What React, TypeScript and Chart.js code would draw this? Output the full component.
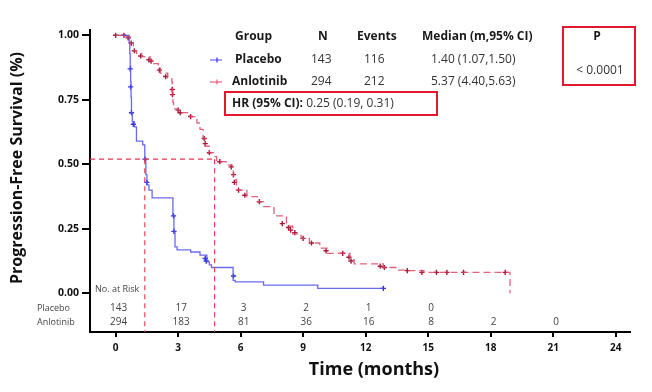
import React, { useEffect, useRef } from 'react';
import { Chart, registerables } from 'chart.js';

Chart.register(...registerables);

// Kaplan-Meier step points (time in months, survival)
const placeboTimes = [0, 0.65, 0.68, 0.7, 0.72, 0.74, 0.76, 0.8, 0.9, 1.0, 1.3, 1.4, 1.45, 1.5, 1.6, 1.75, 2.75, 2.8, 2.85, 2.95, 3.6, 4.05, 4.38, 4.5, 4.6, 5.64, 5.74, 7.1, 9.7, 12.85];
const placeboSurv = [1.0, 0.97, 0.93, 0.88, 0.82, 0.76, 0.7, 0.665, 0.645, 0.59, 0.575, 0.52, 0.46, 0.42, 0.4, 0.37, 0.3, 0.24, 0.18, 0.168, 0.16, 0.148, 0.122, 0.11, 0.1, 0.05, 0.044, 0.032, 0.019, 0.019];
const placeboCensorTimes = [0.7, 0.72, 0.76, 0.85, 1.41, 1.5, 2.78, 2.8, 4.3, 4.35, 5.66, 12.85];
const placeboCensorSurv = [0.87, 0.8, 0.7, 0.655, 0.52, 0.43, 0.3, 0.24, 0.135, 0.125, 0.067, 0.019];

const anlotinibTimes = [0, 0.5, 0.69, 0.85, 1.0, 1.25, 1.65, 1.75, 2.05, 2.15, 2.5, 2.7, 2.72, 2.75, 2.78, 2.95, 3.1, 3.55, 3.9, 4.05, 4.2, 4.3, 4.5, 4.7, 4.85, 5.3, 5.6, 5.65, 5.8, 6.3, 6.8, 7.1, 7.6, 8.2, 8.5, 8.9, 9.3, 9.8, 10.15, 11.25, 11.45, 12.85, 13.5, 14.0, 14.8, 18.93];
const anlotinibSurv = [1.0, 0.995, 0.97, 0.94, 0.93, 0.917, 0.905, 0.89, 0.878, 0.853, 0.835, 0.82, 0.78, 0.74, 0.715, 0.71, 0.7, 0.685, 0.66, 0.635, 0.6, 0.57, 0.545, 0.53, 0.51, 0.497, 0.49, 0.44, 0.4, 0.375, 0.355, 0.336, 0.3, 0.26, 0.23, 0.213, 0.195, 0.175, 0.155, 0.13, 0.114, 0.1, 0.09, 0.088, 0.081, 0.0];
const anlotinibCensorTimes = [0.0, 0.4, 0.6, 0.75, 0.9, 1.2, 1.6, 1.7, 2.1, 2.4, 2.72, 2.73, 3.0, 3.1, 3.6, 4.25, 4.3, 4.5, 5.0, 5.55, 5.66, 5.7, 5.9, 6.2, 6.9, 8.0, 8.3, 8.4, 8.6, 9.0, 9.4, 10.1, 10.9, 11.2, 11.3, 12.7, 12.9, 14.0, 14.7, 15.4, 15.9, 16.7, 18.7];
const anlotinibCensorSurv = [1.0, 1.0, 0.99, 0.97, 0.94, 0.92, 0.905, 0.9, 0.865, 0.84, 0.79, 0.77, 0.71, 0.7, 0.685, 0.6, 0.58, 0.545, 0.51, 0.49, 0.46, 0.43, 0.4, 0.38, 0.355, 0.27, 0.255, 0.245, 0.235, 0.213, 0.195, 0.165, 0.155, 0.14, 0.125, 0.105, 0.1, 0.088, 0.081, 0.081, 0.081, 0.081, 0.081];

const medianRefY = 0.52;
const medianRefX = [1.4, 4.75];

const xTicks = [0, 3, 6, 9, 12, 15, 18, 21, 24];
const yTicks = [0, 0.25, 0.5, 0.75, 1.0];

const riskTimes = [0, 3, 6, 9, 12, 15, 18, 21];
const placeboAtRisk = [143, 17, 3, 2, 1, 0];
const anlotinibAtRisk = [294, 183, 81, 36, 16, 8, 2, 0];

const groupNames = ['Placebo', 'Anlotinib'];
const groupN = ['143', '294'];
const groupEvents = ['116', '212'];
const groupMedian = ['1.40 (1.07,1.50)', '5.37 (4.40,5.63)'];
const tableHeaders = ['Group', 'N', 'Events', 'Median (m,95% CI)'];
const pLabel = 'P';
const pValue = '< 0.0001';
const hrLabel = 'HR (95% CI):';
const hrValue = ' 0.25 (0.19, 0.31)';

const X_MIN = -1.23;
const X_MAX = 24.69;
const Y_MIN = -0.15;
const Y_MAX = 1.0205;

const BLUE = 'rgba(80,80,238,0.85)';
const BLUE_MARK = '#3030e0';
const RED = 'rgba(222,70,100,0.85)';
const RED_MARK = '#a8183a';
const BOX_RED = '#e3182f';
const FONT = '"Open Sans", "Noto Sans", sans-serif';

const zip = (xs: number[], ys: number[]) => xs.map((x, i) => ({ x, y: ys[i] }));

const annotationPlugin = {
  id: 'kmAnnotations',
  afterDraw(chart: any) {
    const ctx = chart.ctx as CanvasRenderingContext2D;
    const xs = chart.scales.x;
    ctx.save();
    ctx.textBaseline = 'middle';

    // Y title
    ctx.save();
    ctx.translate(17, 168);
    ctx.rotate(-Math.PI / 2);
    ctx.font = `bold 16px ${FONT}`;
    ctx.fillStyle = '#111';
    ctx.textAlign = 'center';
    ctx.fillText('Progression-Free Survival (%)', 0, 0);
    ctx.restore();

    // X title
    ctx.font = `bold 18px ${FONT}`;
    ctx.fillStyle = '#111';
    ctx.textAlign = 'center';
    ctx.fillText('Time (months)', 374, 370);

    // At risk table
    ctx.font = `9px ${FONT}`;
    ctx.fillStyle = '#444';
    ctx.textAlign = 'left';
    ctx.fillText('No. at Risk', 95, 289);
    ctx.fillText('Placebo', 37, 308);
    ctx.fillText('Anlotinib', 37, 322);
    ctx.font = `10px ${FONT}`;
    ctx.textAlign = 'center';
    placeboAtRisk.forEach((n, i) => ctx.fillText(String(n), xs.getPixelForValue(riskTimes[i]) + 3, 308));
    anlotinibAtRisk.forEach((n, i) => ctx.fillText(String(n), xs.getPixelForValue(riskTimes[i]) + 3, 322));

    // Legend table
    ctx.fillStyle = '#1a1a1a';
    ctx.textAlign = 'left';
    ctx.font = `bold 12px ${FONT}`;
    const hx = [235, 318, 357, 422];
    tableHeaders.forEach((h, i) => ctx.fillText(h, hx[i], 37));
    const rowY = [60, 82];
    const nameX = [235, 232];
    groupNames.forEach((g, i) => {
      ctx.font = `bold 12px ${FONT}`;
      ctx.fillStyle = '#1a1a1a';
      ctx.fillText(g, nameX[i], rowY[i]);
      ctx.font = `12px ${FONT}`;
      ctx.fillStyle = '#333';
      ctx.fillText(groupN[i], 311, rowY[i]);
      ctx.fillText(groupEvents[i], 364, rowY[i]);
      ctx.fillText(groupMedian[i], 431, rowY[i]);
      // marker
      const col = i === 0 ? BLUE : RED;
      const mk = i === 0 ? BLUE_MARK : RED;
      ctx.strokeStyle = col;
      ctx.lineWidth = 1.2;
      ctx.beginPath();
      ctx.moveTo(210, rowY[i]);
      ctx.lineTo(222, rowY[i]);
      ctx.stroke();
      ctx.strokeStyle = mk;
      ctx.beginPath();
      ctx.moveTo(217, rowY[i] - 2.5);
      ctx.lineTo(217, rowY[i] + 2.5);
      ctx.stroke();
    });

    // P box
    ctx.strokeStyle = BOX_RED;
    ctx.lineWidth = 2;
    ctx.strokeRect(563, 27, 72, 58);
    ctx.textAlign = 'center';
    ctx.font = `bold 12px ${FONT}`;
    ctx.fillStyle = '#1a1a1a';
    ctx.fillText(pLabel, 597, 37);
    ctx.font = `12px ${FONT}`;
    ctx.fillStyle = '#333';
    ctx.fillText(pValue, 600, 71);

    // HR box
    ctx.strokeRect(225, 92, 212, 23);
    ctx.textAlign = 'left';
    ctx.font = `bold 12px ${FONT}`;
    ctx.fillStyle = '#1a1a1a';
    ctx.fillText(hrLabel, 232, 104);
    const w = ctx.measureText(hrLabel).width;
    ctx.font = `12px ${FONT}`;
    ctx.fillStyle = '#333';
    ctx.fillText(hrValue, 232 + w, 104);

    ctx.restore();
  },
};

export default function App() {
  const ref = useRef<HTMLCanvasElement | null>(null);

  useEffect(() => {
    document.body.style.margin = '0';
    if (!ref.current) return;
    const censorDs = (xs: number[], ys: number[], color: string) => ({
      type: 'scatter' as const,
      data: zip(xs, ys),
      showLine: false,
      pointStyle: 'cross',
      pointRadius: 2.6,
      pointBorderWidth: 1.4,
      pointBorderColor: color,
      pointBackgroundColor: color,
      borderColor: color,
    });
    const refLine = (pts: { x: number; y: number }[]) => ({
      type: 'line' as const,
      data: pts,
      borderColor: '#ea3550',
      borderWidth: 1.1,
      borderDash: [5, 4],
      pointRadius: 0,
      fill: false,
    });
    const chart = new Chart(ref.current, {
      type: 'line',
      data: {
        datasets: [
          refLine([{ x: X_MIN, y: medianRefY }, { x: medianRefX[1], y: medianRefY }]),
          refLine([{ x: medianRefX[0], y: medianRefY }, { x: medianRefX[0], y: Y_MIN }]),
          refLine([{ x: medianRefX[1], y: medianRefY }, { x: medianRefX[1], y: Y_MIN }]),
          {
            type: 'line',
            data: zip(anlotinibTimes, anlotinibSurv),
            stepped: 'before',
            borderColor: RED,
            borderWidth: 1.3,
            borderDash: [7, 4],
            pointRadius: 0,
            fill: false,
          },
          {
            type: 'line',
            data: zip(placeboTimes, placeboSurv),
            stepped: 'before',
            borderColor: BLUE,
            borderWidth: 1.3,
            pointRadius: 0,
            fill: false,
          },
          censorDs(anlotinibCensorTimes, anlotinibCensorSurv, RED_MARK),
          censorDs(placeboCensorTimes, placeboCensorSurv, BLUE_MARK),
        ] as any,
      },
      options: {
        animation: false,
        responsive: false,
        events: [],
        layout: { padding: { left: 0, right: 22, top: 30, bottom: 0 } },
        plugins: { legend: { display: false }, tooltip: { enabled: false }, title: { display: false } },
        scales: {
          x: {
            type: 'linear',
            min: X_MIN,
            max: X_MAX,
            afterBuildTicks: (s: any) => {
              s.ticks = xTicks.map((v) => ({ value: v }));
            },
            afterFit: (s: any) => {
              s.height = 60;
            },
            ticks: {
              font: { family: FONT, size: 10, weight: 'bold' },
              color: '#111',
              padding: 5,
              maxRotation: 0,
              callback: (v: any) => String(v),
            },
            grid: { drawOnChartArea: false, drawTicks: true, tickLength: 5, color: '#000', lineWidth: 2 },
            border: { display: true, color: '#000', width: 2 },
          },
          y: {
            type: 'linear',
            min: Y_MIN,
            max: Y_MAX,
            afterBuildTicks: (s: any) => {
              s.ticks = yTicks.map((v) => ({ value: v }));
            },
            afterFit: (s: any) => {
              s.width = 90;
            },
            ticks: {
              font: { family: FONT, size: 10.5, weight: 'bold' },
              color: '#111',
              padding: 3,
              callback: (v: any) => Number(v).toFixed(2),
            },
            grid: { drawOnChartArea: false, drawTicks: true, tickLength: 8, color: '#000', lineWidth: 2 },
            border: { display: true, color: '#000', width: 2 },
          },
        },
      } as any,
      plugins: [annotationPlugin],
    });
    return () => chart.destroy();
  }, []);

  return (
    <div style={{ position: 'absolute', left: 0, top: 0, width: 652, height: 392, background: '#fff' }}>
      <canvas ref={ref} width={652} height={392} style={{ display: 'block' }} />
    </div>
  );
}
